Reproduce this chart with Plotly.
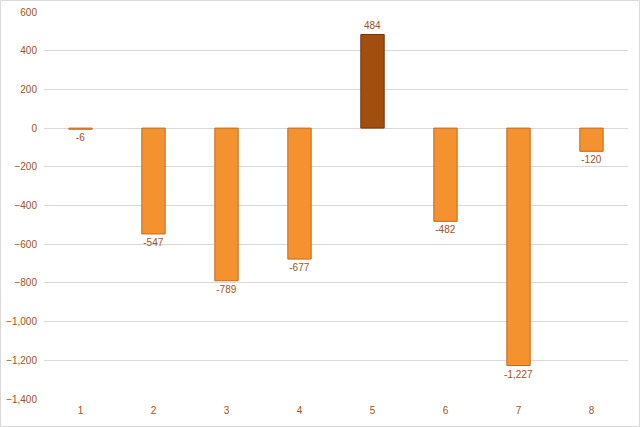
import plotly.graph_objects as go

categories = ["1", "2", "3", "4", "5", "6", "7", "8"]
values = [-6, -547, -789, -677, 484, -482, -1227, -120]
y_ticks = [-1400, -1200, -1000, -800, -600, -400, -200, 0, 200, 400, 600]

pos_color = "#A24E0E"
neg_color = "#F4922F"
colors = [pos_color if v > 0 else neg_color for v in values]
line_colors = ["#6E3209" if v > 0 else "#C46A1C" for v in values]

text_color = "#A0521B"

fig = go.Figure()
fig.add_trace(go.Bar(
    x=categories,
    y=values,
    marker=dict(color=colors, line=dict(color=line_colors, width=1)),
    text=values,
    texttemplate="%{y:,}",
    textposition="outside",
    constraintext="none",
    textfont=dict(family="Liberation Sans", size=10, color=text_color),
    cliponaxis=False,
))

fig.update_layout(
    width=640, height=427,
    margin=dict(l=44, r=12, t=12, b=28, autoexpand=False),
    paper_bgcolor="white",
    plot_bgcolor="white",
    bargap=0.68,
    showlegend=False,
    uniformtext=dict(mode=False),
    font=dict(family="Liberation Sans", size=10, color=text_color),
    xaxis=dict(
        type="category",
        showgrid=False,
        showline=False,
        ticks="",
        automargin=False,
        ticklabelstandoff=4,
        tickfont=dict(size=10, color=text_color),
    ),
    yaxis=dict(
        range=[-1400, 600],
        tickvals=y_ticks,
        tickformat=",",
        showgrid=True,
        gridcolor="#D9D9D9",
        gridwidth=1,
        zeroline=True,
        zerolinecolor="#D9D9D9",
        zerolinewidth=1,
        showline=False,
        ticks="",
        automargin=False,
        ticklabelstandoff=6,
        tickfont=dict(size=10, color=text_color),
    ),
)

fig.add_shape(
    type="rect", xref="paper", yref="paper",
    x0=-43.5/584, x1=1 + 11.5/584, y0=-27.5/387, y1=1 + 11.5/387,
    line=dict(color="#D9D9D9", width=1), fillcolor="rgba(0,0,0,0)",
    layer="below",
)

fig.write_html("out.html")
